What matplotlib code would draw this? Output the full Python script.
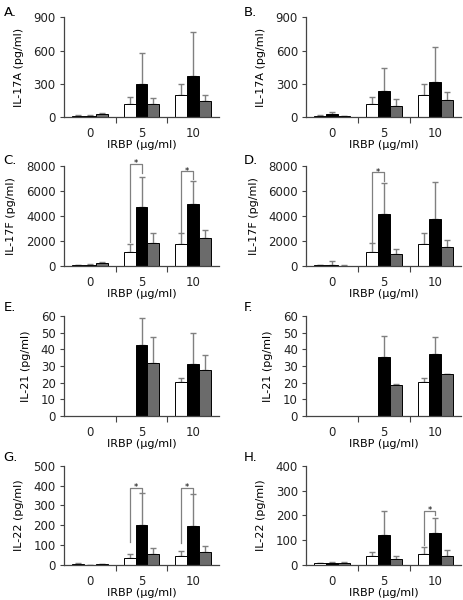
import numpy as np
import matplotlib
matplotlib.use("Agg")
import matplotlib.pyplot as plt

plt.rcParams["font.family"] = ["DejaVu Sans"]

doses = ["0", "5", "10"]
group_colors = ["white", "black", "#6b6b6b"]

# mean values per group (white, black, gray) and upper SD
a_mean = [[12, 121, 196], [10, 302, 371], [25, 115, 145]]
a_sd = [[8, 60, 106], [6, 278, 393], [8, 60, 57]]
b_mean = [[12, 116, 195], [25, 235, 314], [5, 98, 152]]
b_sd = [[10, 67, 104], [18, 207, 320], [3, 64, 71]]
c_mean = [[50, 1128, 1720], [80, 4700, 4970], [200, 1850, 2255]]
c_sd = [[20, 617, 910], [30, 2440, 1820], [80, 750, 645]]
d_mean = [[50, 1128, 1745], [90, 4190, 3730], [20, 913, 1477]]
d_sd = [[20, 672, 885], [290, 2470, 3040], [10, 457, 563]]
e_mean = [[0, 0, 20.5], [0, 42.6, 31.4], [0, 32.0, 27.6]]
e_sd = [[0, 0, 2.4], [0, 16.4, 18.5], [0, 15.2, 8.9]]
f_mean = [[0, 0, 20.5], [0, 35.5, 37.5], [0, 18.4, 24.9]]
f_sd = [[0, 0, 2.4], [0, 12.7, 9.7], [0, 0.5, 0.4]]
g_mean = [[8, 37, 45], [2, 201, 195], [6, 57, 65]]
g_sd = [[3, 18, 27], [1, 160, 161], [2, 27, 31]]
h_mean = [[7, 36, 46], [10, 121, 131], [8, 24, 36]]
h_sd = [[3, 18, 28], [3, 98, 57], [3, 12, 27]]

# significance brackets: (dose index, top, left foot, right foot)
c_sig = [(1, 8200, 1900, 7450), (2, 7600, 2750, 6950)]
d_sig = [(1, 7500, 1900, 6800)]
g_sig = [(1, 390, 115, 365), (2, 390, 110, 360)]
h_sig = [(2, 219, 80, 200)]

panels = [
    ("A.", "IL-17A (pg/ml)", a_mean, a_sd, [0, 300, 600, 900], [], 0, 0),
    ("B.", "IL-17A (pg/ml)", b_mean, b_sd, [0, 300, 600, 900], [], 0, 1),
    ("C.", "IL-17F (pg/ml)", c_mean, c_sd, [0, 2000, 4000, 6000, 8000], c_sig, 1, 0),
    ("D.", "IL-17F (pg/ml)", d_mean, d_sd, [0, 2000, 4000, 6000, 8000], d_sig, 1, 1),
    ("E.", "IL-21 (pg/ml)", e_mean, e_sd, [0, 10, 20, 30, 40, 50, 60], [], 2, 0),
    ("F.", "IL-21 (pg/ml)", f_mean, f_sd, [0, 10, 20, 30, 40, 50, 60], [], 2, 1),
    ("G.", "IL-22 (pg/ml)", g_mean, g_sd, [0, 100, 200, 300, 400, 500], g_sig, 3, 0),
    ("H.", "IL-22 (pg/ml)", h_mean, h_sd, [0, 100, 200, 300, 400], h_sig, 3, 1),
]

fig = plt.figure(figsize=(4.64, 6.0), dpi=100)
lefts = [0.138, 0.66]
bottoms = [0.805, 0.557, 0.307, 0.058]
label_x = [0.008, 0.525]
label_y = [0.98, 0.732, 0.488, 0.238]

width = 0.23
x = np.arange(len(doses))
spine_col = "#444444"
err_col = "#808080"
fs_tick = 8.5
fs_lab = 8

for letter, ylabel, means, sds, yticks, sigs, row, col in panels:
    ax = fig.add_axes([lefts[col], bottoms[row], 0.334, 0.166])
    for k in range(3):
        pos = x + (k - 1) * width
        ax.bar(pos, means[k], width, color=group_colors[k],
               edgecolor="black", linewidth=0.7, zorder=2)
        for p, m, s in zip(pos, means[k], sds[k]):
            if m > 0 and s > 0:
                ax.errorbar(p, m, yerr=[[0], [s]], fmt="none", ecolor=err_col,
                            elinewidth=1.0, capsize=2.5, capthick=1.0, zorder=1)
    for gi, top, lf, rf in sigs:
        xl = x[gi] - width
        xr = x[gi]
        ax.plot([xl, xl, xr, xr], [lf, top, top, rf], color=err_col,
                lw=0.9, clip_on=False, zorder=3)
        ax.text((xl + xr) / 2, top, "*", ha="center", va="center",
                fontsize=6, clip_on=False)
    ax.set_xlim(-0.5, 2.5)
    ax.set_ylim(0, yticks[-1])
    ax.set_yticks(yticks)
    ax.set_xticks([0.5, 1.5])
    ax.set_xticklabels([])
    ax.set_xticks(x, minor=True)
    ax.set_xticklabels(doses, minor=True)
    ax.tick_params(axis="x", which="major", length=4, width=0.8, color=spine_col)
    ax.tick_params(axis="x", which="minor", length=0, pad=7, labelsize=fs_tick,
                   labelcolor="#222222")
    ax.tick_params(axis="y", length=3, width=0.8, color=spine_col, labelsize=fs_tick,
                   pad=3, labelcolor="#222222")
    for side in ["top", "right"]:
        ax.spines[side].set_visible(False)
    for side in ["left", "bottom"]:
        ax.spines[side].set_color(spine_col)
        ax.spines[side].set_linewidth(0.9)
    ax.set_xlabel("IRBP (\u03bcg/ml)", fontsize=fs_lab, labelpad=0)
    ax.set_ylabel(ylabel, fontsize=fs_lab, labelpad=7)
    fig.text(label_x[col], label_y[row], letter, fontsize=9.5, va="center", ha="left")

fig.savefig("out.png", dpi=100)
